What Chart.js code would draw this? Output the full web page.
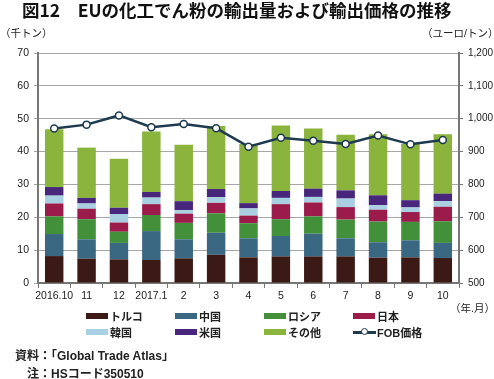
<!DOCTYPE html>
<html>
<head>
<meta charset="utf-8">
<script src="https://cdn.jsdelivr.net/npm/chart.js@4/dist/chart.umd.min.js"></script>
<style>
  body { margin: 0; background: #fff; font-family: "Liberation Sans", "Noto Sans CJK JP", sans-serif; color: #222; }
  #wrap { position: relative; width: 494px; height: 379px; overflow: hidden; }
  #chart { position: absolute; left: 0; top: 0; }
  .t { position: absolute; white-space: nowrap; }
  #title { left: 22px; top: -3px; font: bold 17.5px "Noto Sans CJK JP", sans-serif; color: #111; }
  .unit { font-size: 10.5px; top: 25px; }
  .leg { position: absolute; font-size: 11px; font-weight: bold; white-space: nowrap; }
  .sw { position: absolute; width: 22px; height: 6px; }
  .note { font-size: 12px; font-weight: bold; }
</style>
</head>
<body>
<div id="wrap">
  <canvas id="chart" width="494" height="310"></canvas>
  <div class="t" id="title">図12　EUの化工でん粉の輸出量および輸出価格の推移</div>
  <div class="t unit" style="left:0px;">（千トン）</div>
  <div class="t unit" style="left:422px;">（ユーロ/トン）</div>
  <div class="t" style="left:450px; top:300px; font-size:10.5px;">（年.月）</div>
  <div id="legend"></div>
  <div class="t note" style="left:15px; top:346px;">資料：「Global Trade Atlas」</div>
  <div class="t note" style="left:27px; top:364px;">注：HSコード350510</div>
</div>
<script>
var months = ["2016.10", "11", "12", "2017.1", "2", "3", "4", "5", "6", "7", "8", "9", "10"];

// 千トン
var turkey = [8.2, 7.4, 7.2, 7.0, 7.5, 8.6, 7.8, 8.1, 8.1, 8.1, 7.7, 7.8, 7.6];
var china  = [6.7, 5.9, 5.0, 8.8, 5.8, 6.7, 5.8, 6.2, 6.9, 5.5, 4.7, 5.2, 4.6];
var russia = [5.4, 6.1, 3.4, 4.9, 5.0, 5.9, 4.6, 5.1, 5.3, 5.7, 6.3, 5.6, 6.6];
var japan  = [3.9, 3.2, 2.8, 3.3, 2.8, 3.2, 2.3, 4.6, 4.2, 3.8, 3.6, 3.0, 4.4];
var korea  = [2.4, 1.6, 2.6, 2.0, 1.1, 1.7, 2.2, 1.9, 1.7, 2.6, 1.4, 1.4, 1.7];
var usa    = [2.6, 1.7, 1.9, 1.7, 2.7, 2.5, 1.6, 2.1, 2.5, 2.5, 3.0, 2.2, 2.3];
var others = [17.6, 15.3, 14.9, 18.4, 17.2, 19.2, 18.0, 19.9, 18.3, 16.9, 18.6, 17.1, 18.1];

// ユーロ/トン
var fobPrice = [970, 982, 1010, 974, 984, 971, 915, 942, 933, 923, 949, 922, 935];

var leftTicks = [0, 10, 20, 30, 40, 50, 60, 70];
var rightTicks = [500, 600, 700, 800, 900, 1000, 1100, 1200];

var barSeries = [
  { label: "トルコ", data: turkey, color: "#3b1a15" },
  { label: "中国",   data: china,  color: "#3a6782" },
  { label: "ロシア", data: russia, color: "#43903b" },
  { label: "日本",   data: japan,  color: "#9b1b4b" },
  { label: "韓国",   data: korea,  color: "#a8d0e2" },
  { label: "米国",   data: usa,    color: "#47267b" },
  { label: "その他", data: others, color: "#8bb43d" }
];
var lineColor = "#1d3a4f";

var datasets = barSeries.map(function (s) {
  return {
    type: "bar",
    label: s.label,
    data: s.data,
    backgroundColor: s.color,
    borderWidth: 0,
    barPercentage: 0.57,
    categoryPercentage: 1,
    yAxisID: "y",
    stack: "vol",
    order: 2
  };
});
datasets.push({
  type: "line",
  label: "FOB価格",
  data: fobPrice,
  borderColor: lineColor,
  borderWidth: 2.5,
  pointRadius: 3.5,
  pointBackgroundColor: "#fff",
  pointBorderColor: lineColor,
  pointBorderWidth: 1.5,
  yAxisID: "y1",
  tension: 0,
  order: 0
});

var tickFont = { family: "'Liberation Sans', Arial, sans-serif", size: 10.5 };

new Chart(document.getElementById("chart"), {
  data: { labels: months, datasets: datasets },
  options: {
    responsive: false,
    animation: false,
    layout: { padding: { top: 53, bottom: 7, left: 0, right: 0 } },
    plugins: { legend: { display: false }, tooltip: { enabled: false } },
    scales: {
      x: {
        stacked: true,
        grid: { display: true, drawOnChartArea: false, drawTicks: true, tickLength: 5, color: "#777" },
        border: { color: "#777", width: 2 },
        ticks: { color: "#222", font: tickFont, padding: 2, maxRotation: 0, autoSkip: false },
        afterFit: function (s) { s.height = 20; }
      },
      y: {
        stacked: true,
        position: "left",
        min: 0, max: 70,
        afterBuildTicks: function (s) { s.ticks = leftTicks.map(function (v) { return { value: v }; }); },
        grid: { color: "#a6a6a6", lineWidth: 1, tickLength: 4 },
        border: { color: "#777", width: 2 },
        ticks: { color: "#222", font: tickFont, padding: 5 },
        afterFit: function (s) { s.width = 38; }
      },
      y1: {
        position: "right",
        min: 500, max: 1200,
        afterBuildTicks: function (s) { s.ticks = rightTicks.map(function (v) { return { value: v }; }); },
        grid: { drawOnChartArea: false, tickLength: 4, color: "#777" },
        border: { color: "#777", width: 2 },
        ticks: {
          color: "#222", font: { family: tickFont.family, size: 10 }, padding: 5,
          callback: function (v) { return v.toLocaleString("en-US"); }
        },
        afterFit: function (s) { s.width = 35; }
      }
    }
  }
});

// legend, 4 columns x 2 rows
var legendItems = barSeries.map(function (s) { return { label: s.label, color: s.color }; });
legendItems.push({ label: "FOB価格", line: true });
var colX = [86, 175, 264, 353];
var rowY = [316, 332];
var leg = document.getElementById("legend");
legendItems.forEach(function (it, i) {
  var x = colX[i % 4], y = rowY[Math.floor(i / 4)];
  if (it.line) {
    var ln = document.createElement("div");
    ln.style.cssText = "position:absolute;left:" + x + "px;top:" + (y - 1) + "px;width:23px;height:2.5px;background:" + lineColor;
    leg.appendChild(ln);
    var c = document.createElement("div");
    c.style.cssText = "position:absolute;left:" + (x + 8) + "px;top:" + (y - 4) + "px;width:5px;height:5px;border:1.5px solid " + lineColor + ";border-radius:50%;background:#fff";
    leg.appendChild(c);
  } else {
    var sw = document.createElement("div");
    sw.className = "sw";
    sw.style.left = x + "px";
    sw.style.top = (y - 3) + "px";
    sw.style.background = it.color;
    leg.appendChild(sw);
  }
  var tx = document.createElement("div");
  tx.className = "leg";
  tx.style.left = (x + 24) + "px";
  tx.style.top = (y - 8) + "px";
  tx.textContent = it.label;
  leg.appendChild(tx);
});
</script>
</body>
</html>
